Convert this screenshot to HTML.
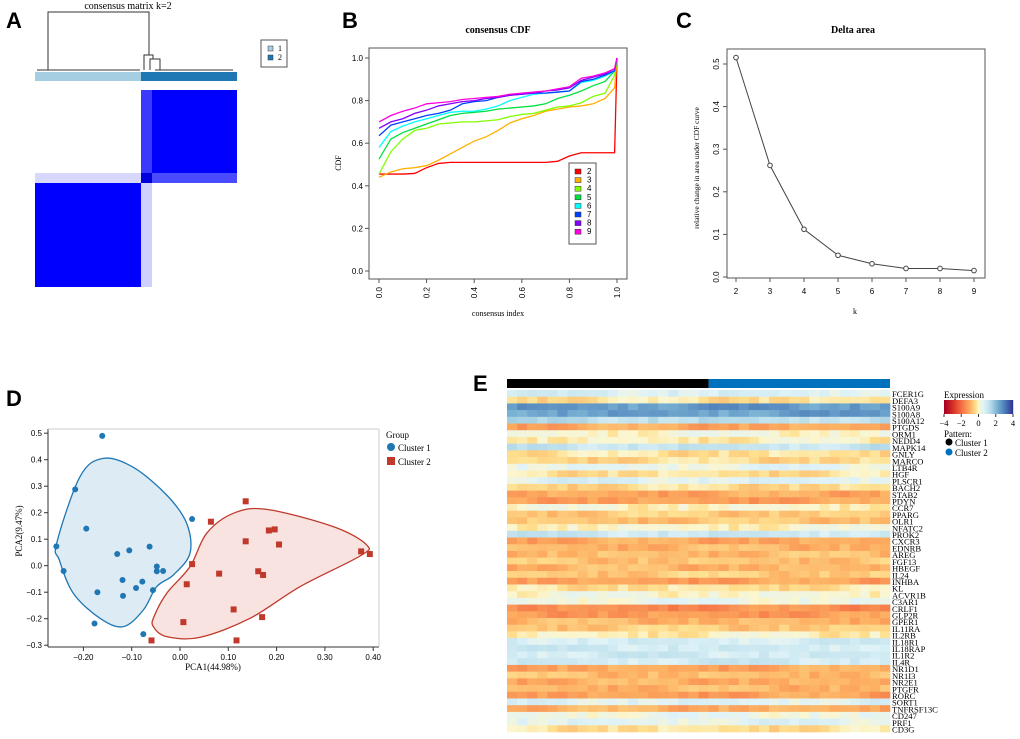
<!DOCTYPE html>
<html><head><meta charset="utf-8"><style>
body{margin:0;background:#fff}
svg{display:block}
text{font-family:"Liberation Serif",serif}
.lab{font-family:"Liberation Sans",sans-serif;font-weight:bold;font-size:22px}
.sans{font-family:"Liberation Sans",sans-serif}
</style></head><body>
<svg id="fig" width="1020" height="739" viewBox="0 0 1020 739" xmlns="http://www.w3.org/2000/svg">
<text class="lab" x="6" y="28">A</text>
<text class="lab" x="342" y="28">B</text>
<text class="lab" x="676" y="28">C</text>
<text class="lab" x="6" y="406">D</text>
<text class="lab" x="473" y="391">E</text>

<!-- Panel A -->
<g>
<text x="128" y="9" font-size="10" text-anchor="middle">consensus matrix k=2</text>
<g stroke="#333" stroke-width="1" fill="none">
<path d="M48,70V12H149V55"/><path d="M144,70V55H153V59"/><path d="M150,70V59H160V70"/>
<path d="M37,70H140M155,70H233"/>
</g>
<rect x="35" y="72" width="106" height="9" fill="#a6cee3"/>
<rect x="141" y="72" width="96" height="9" fill="#1f78b4"/>
<rect x="141" y="90" width="96" height="93" fill="#0000ff"/>
<rect x="141" y="90" width="11" height="83" fill="#3a3aff"/>
<rect x="141" y="173" width="96" height="10" fill="#4a4aff"/>
<rect x="35" y="173" width="106" height="10" fill="#d8d8ff"/>
<rect x="35" y="183" width="106" height="104" fill="#0000ff"/>
<rect x="141" y="183" width="11" height="104" fill="#d0d0ff"/>
<rect x="141" y="173" width="11" height="10" fill="#0000dd"/>
<rect x="261" y="40" width="26" height="27" fill="#fff" stroke="#555"/>
<rect x="268" y="46" width="5" height="5" fill="#a6cee3" stroke="#333" stroke-width=".5"/>
<text x="278" y="51" font-size="8">1</text>
<rect x="268" y="55" width="5" height="5" fill="#1f78b4" stroke="#333" stroke-width=".5"/>
<text x="278" y="60" font-size="8">2</text>
</g>

<g id="panelB"></g>
<g id="panelC"></g>
<g id="panelD"></g>
<g id="panelE"></g>
</svg>
<script>
const NS="http://www.w3.org/2000/svg";
function mk(p,t,a,txt){const e=document.createElementNS(NS,t);for(const k in a)e.setAttribute(k,a[k]);if(txt!==undefined)e.textContent=txt;p.appendChild(e);return e;}

// ---------- Panel B data ----------
const cdfX=[0,0.05,0.1,0.15,0.2,0.25,0.3,0.35,0.4,0.45,0.5,0.55,0.6,0.65,0.7,0.75,0.8,0.85,0.9,0.95,0.99,1.0];
const cdfK=["2","3","4","5","6","7","8","9"];
const cdfColors=["#ff0000","#ffb000","#80ff00","#00e040","#00ffff","#0040ff","#8000ff","#ff00e0"];
const cdf2=[.455,.455,.455,.458,.485,.505,.51,.51,.51,.51,.51,.51,.51,.51,.51,.515,.54,.555,.555,.555,.555,1.0];
const cdf3=[.44,.465,.48,.485,.495,.52,.55,.58,.61,.63,.66,.695,.715,.73,.75,.76,.77,.775,.785,.81,.86,1.0];
const cdf4=[.455,.56,.62,.66,.67,.69,.695,.70,.70,.705,.71,.725,.735,.74,.755,.77,.775,.79,.82,.835,.92,1.0];
const cdf5=[.525,.62,.65,.67,.69,.71,.73,.74,.745,.75,.76,.765,.77,.775,.785,.81,.825,.845,.87,.89,.94,1.0];
const cdf6=[.58,.655,.68,.70,.715,.73,.745,.75,.75,.76,.775,.80,.815,.83,.835,.84,.845,.885,.895,.915,.94,1.0];
const cdf7=[.635,.685,.70,.715,.73,.74,.755,.785,.795,.80,.815,.825,.83,.835,.835,.84,.845,.89,.90,.92,.94,1.0];
const cdf8=[.67,.70,.715,.74,.755,.775,.785,.795,.80,.81,.815,.825,.83,.835,.845,.85,.86,.895,.91,.925,.95,1.0];
const cdf9=[.70,.73,.75,.765,.785,.79,.795,.805,.81,.815,.82,.83,.835,.84,.845,.855,.865,.905,.915,.93,.95,1.0];
const cdfSeries=[cdf2,cdf3,cdf4,cdf5,cdf6,cdf7,cdf8,cdf9];
const cdfTicks=[0,0.2,0.4,0.6,0.8,1.0];

// ---------- Panel C data ----------
const deltaK=[2,3,4,5,6,7,8,9];
const deltaVal=[0.515,0.262,0.112,0.051,0.031,0.02,0.02,0.015];
const deltaYTicks=[0,0.1,0.2,0.3,0.4,0.5];

// ---------- Panel D data ----------
const c1x=[-0.161,-0.217,-0.194,-0.256,-0.241,-0.171,-0.177,-0.130,-0.105,-0.063,-0.048,-0.048,-0.035,-0.119,-0.078,-0.091,-0.056,-0.118,0.025,-0.076];
const c1y=[0.49,0.288,0.14,0.073,-0.02,-0.10,-0.218,0.044,0.058,0.072,-0.003,-0.021,-0.02,-0.054,-0.06,-0.084,-0.092,-0.114,0.176,-0.258];
const c2x=[0.136,0.064,0.184,0.196,0.136,0.205,0.375,0.393,0.025,0.081,0.162,0.172,0.014,0.111,0.170,0.007,-0.059,0.117];
const c2y=[0.243,0.166,0.133,0.137,0.092,0.08,0.054,0.044,0.006,-0.03,-0.021,-0.035,-0.07,-0.165,-0.194,-0.213,-0.282,-0.282];
const pcaXTicks=[-0.2,-0.1,0,0.1,0.2,0.3,0.4];
const pcaXLabels=["\u22120.20","\u22120.10","0.00","0.10","0.20","0.30","0.40"];
const pcaYTicks=[-0.3,-0.2,-0.1,0,0.1,0.2,0.3,0.4,0.5];
const pcaYLabels=["\u22120.3","\u22120.2","\u22120.1","0.0","0.1","0.2","0.3","0.4","0.5"];

// ---------- Panel E data ----------
const genes=["FCER1G","DEFA3","S100A9","S100A8","S100A12","PTGDS","ORM1","NEDD4","MAPK14","GNLY","MARCO","LTB4R","HGF","PLSCR1","BACH2","STAB2","PDYN","CCR7","PPARG","OLR1","NFATC2","PROK2","CXCR3","EDNRB","AREG","FGF13","HBEGF","IL24","INHBA","KL","ACVR1B","C3AR1","CRLF1","GLP2R","GPER1","IL11RA","IL2RB","IL18R1","IL18RAP","IL1R2","IL4R","NR1D1","NR1I3","NR2E1","PTGFR","RORC","SORT1","TNFRSF13C","CD247","PRF1","CD3G"];
const geneBase=[0.7,-0.3,2.6,2.5,1.3,-1.1,0.1,-0.1,1.1,-0.3,-0.4,0.4,-0.3,0.6,-0.4,-1.1,-1.2,0.0,-0.6,-0.7,0.0,1.0,-1.1,-0.9,-0.8,-0.7,-0.9,-0.6,-1.2,-0.3,0.1,0.3,-1.5,-1.3,-0.9,-0.6,-0.1,0.8,0.9,0.9,0.9,-1.1,-0.8,-1.0,-0.9,-1.2,0.6,-1.0,0.3,0.5,-0.3];
const colNoise=[0.2,-0.6,0.4,-0.1,0.7,-0.4,0.0,0.5,-0.8,0.3,-0.2,0.6,-0.5,0.1,0.8,-0.3,0.2,-0.7,0.4,0.0,-0.4,0.6,-0.1,0.3,-0.6,0.5,-0.2,0.1,0.7,-0.5,0.3,-0.3,0.0,0.6,-0.8,0.2,0.4,-0.1];
const nCluster1=20, nCluster2=18;

// ---------- Draw B ----------
(function(){
 const g=document.getElementById('panelB');
 const x0=369,x1=627,y0=48,y1=279;
 const sx=v=>379+v*(617-379), sy=v=>271-v*(271-58);
 mk(g,'text',{x:498,y:33,'font-size':10,'font-weight':'bold','text-anchor':'middle'},'consensus CDF');
 mk(g,'rect',{x:x0,y:y0,width:x1-x0,height:y1-y0,fill:'none',stroke:'#555'});
 cdfTicks.forEach(t=>{
  mk(g,'line',{x1:x0-4,x2:x0,y1:sy(t),y2:sy(t),stroke:'#555'});
  mk(g,'text',{x:x0-6,y:sy(t)+3,'font-size':8,'text-anchor':'end',class:'sans'},t.toFixed(1));
  mk(g,'line',{x1:sx(t),x2:sx(t),y1:y1,y2:y1+4,stroke:'#555'});
  mk(g,'text',{x:0,y:0,'font-size':8,'text-anchor':'end',class:'sans',transform:`translate(${sx(t)+3},${y1+8}) rotate(-90)`},t.toFixed(1));
 });
 mk(g,'text',{x:0,y:0,'font-size':8,'text-anchor':'middle',transform:`translate(341,163) rotate(-90)`},'CDF');
 mk(g,'text',{x:498,y:316,'font-size':8,'text-anchor':'middle'},'consensus index');
 cdfSeries.forEach((s,i)=>{
  const pl=mk(g,'polyline',{points:s.map((v,j)=>sx(cdfX[j])+','+sy(v)).join(' '),fill:'none',stroke:cdfColors[i],'stroke-width':1.3});
  
  
 });
 const lg=mk(g,'g',{});
 
 
 mk(lg,'rect',{x:569,y:163,width:27,height:81,fill:'#fff',stroke:'#555'});
 cdfK.forEach((k,i)=>{
  mk(lg,'rect',{x:575,y:169+i*8.6,width:6,height:5,fill:cdfColors[i],stroke:'#333','stroke-width':.5});
  mk(lg,'text',{x:587,y:174+i*8.6,'font-size':8,class:'sans'},k);
 });
})();

// ---------- Draw C ----------
(function(){
 const g=document.getElementById('panelC');
 const x0=727,x1=985,y0=49,y1=278;
 const sx=k=>736+(k-2)*34, sy=v=>277-v/0.5*(277-64);
 mk(g,'text',{x:853,y:33,'font-size':10,'font-weight':'bold','text-anchor':'middle'},'Delta area');
 mk(g,'rect',{x:x0,y:y0,width:x1-x0,height:y1-y0,fill:'none',stroke:'#555'});
 deltaYTicks.forEach(t=>{
  mk(g,'line',{x1:x0-4,x2:x0,y1:sy(t),y2:sy(t),stroke:'#555'});
  mk(g,'text',{x:0,y:0,'font-size':8,'text-anchor':'middle',class:'sans',transform:`translate(${x0-8},${sy(t)}) rotate(-90)`},t.toFixed(1));
 });
 deltaK.forEach(k=>{
  mk(g,'line',{x1:sx(k),x2:sx(k),y1:y1,y2:y1+4,stroke:'#555'});
  mk(g,'text',{x:sx(k),y:y1+16,'font-size':8,'text-anchor':'middle',class:'sans'},k);
 });
 mk(g,'text',{x:855,y:314,'font-size':8,'text-anchor':'middle'},'k');
 mk(g,'text',{x:0,y:0,'font-size':7.5,'text-anchor':'middle',transform:`translate(699,168) rotate(-90)`},'relative change in area under CDF curve');
 const ln=mk(g,'polyline',{points:deltaVal.map((v,i)=>sx(deltaK[i])+','+sy(v)).join(' '),fill:'none',stroke:'#444','stroke-width':1});
 
 
 deltaVal.forEach((v,i)=>{
  const c=mk(g,'circle',{cx:sx(deltaK[i]),cy:sy(v),r:2.3,fill:'#fff',stroke:'#444'});
  
  
 });
})();

// ---------- Draw D ----------
(function(){
 const g=document.getElementById('panelD');
 const x0=48,x1=379,y0=429,y1=647;
 const sx=v=>180+v*483, sy=v=>565.7-v*265;
 function smooth(pts){let d='';const n=pts.length;for(let i=0;i<n;i++){const p0=pts[(i-1+n)%n],p1=pts[i],p2=pts[(i+1)%n],p3=pts[(i+2)%n];if(i===0)d+='M'+p1[0]+','+p1[1];const c1=[p1[0]+(p2[0]-p0[0])/6,p1[1]+(p2[1]-p0[1])/6],c2=[p2[0]-(p3[0]-p1[0])/6,p2[1]-(p3[1]-p1[1])/6];d+=`C${c1[0]},${c1[1]} ${c2[0]},${c2[1]} ${p2[0]},${p2[1]}`;}return d+'Z';}
 const hb=[[170,490],[240,290],[310,235],[400,262],[500,345],[560,430],[570,520],[520,585],[470,620],[430,690],[370,740],[300,715],[220,640],[178,540]].map(p=>[p[0]/3,380+p[1]/3]);
 const hr=[[462,710],[500,640],[570,560],[620,460],[700,400],[800,388],[1000,440],[1100,495],[1080,528],[900,620],[750,715],[600,772],[500,770],[460,740]].map(p=>[p[0]/3,380+p[1]/3]);
 const h1=mk(g,'path',{d:smooth(hb),fill:'#ddebf5',stroke:'#1f77b4','stroke-width':1.3});
 
 
 const h2=mk(g,'path',{d:smooth(hr),fill:'#f8e3e1',stroke:'#c0392b','stroke-width':1.3});
 
 
 mk(g,'line',{x1:x0,x2:x1,y1:y1,y2:y1,stroke:'#333'});
 mk(g,'line',{x1:x0,x2:x0,y1:y0,y2:y1,stroke:'#333'});
 mk(g,'line',{x1:x0,x2:x1,y1:y0,y2:y0,stroke:'#ccc'});
 mk(g,'line',{x1:x1,x2:x1,y1:y0,y2:y1,stroke:'#ccc'});
 pcaXTicks.forEach((t,i)=>{mk(g,'line',{x1:sx(t),x2:sx(t),y1:y1,y2:y1+4,stroke:'#333'});mk(g,'text',{x:sx(t),y:y1+13,'font-size':8,'text-anchor':'middle',class:'sans'},pcaXLabels[i]);});
 pcaYTicks.forEach((t,i)=>{mk(g,'line',{x1:x0-4,x2:x0,y1:sy(t),y2:sy(t),stroke:'#333'});mk(g,'text',{x:x0-6,y:sy(t)+3,'font-size':8,'text-anchor':'end',class:'sans'},pcaYLabels[i]);});
 mk(g,'text',{x:213,y:670,'font-size':9,'text-anchor':'middle'},'PCA1(44.98%)');
 mk(g,'text',{x:0,y:0,'font-size':9,'text-anchor':'middle',transform:'translate(22,531) rotate(-90)'},'PCA2(9.47%)');
 c1x.forEach((v,i)=>{const c=mk(g,'circle',{cx:sx(v),cy:sy(c1y[i]),r:3,fill:'#1f77b4'});
  
  });
 c2x.forEach((v,i)=>{const r=mk(g,'rect',{x:sx(v)-3,y:sy(c2y[i])-3,width:6,height:6,fill:'#c0392b'});
  
  });
 const lg=mk(g,'g',{});
 
 
 mk(lg,'text',{x:386,y:438,'font-size':9},'Group');
 mk(lg,'circle',{cx:391,cy:447,r:4,fill:'#1f77b4'});
 mk(lg,'text',{x:398,y:451,'font-size':9},'Cluster 1');
 mk(lg,'rect',{x:387,y:457,width:8,height:8,fill:'#c0392b'});
 mk(lg,'text',{x:398,y:465,'font-size':9},'Cluster 2');
})();

// ---------- Draw E ----------
(function(){
 const g=document.getElementById('panelE');
 const stops=[[-4,[165,0,38]],[-3,[215,48,39]],[-2,[244,109,67]],[-1,[253,174,97]],[-0.3,[254,224,144]],[0,[252,246,205]],[0.6,[224,243,248]],[1.3,[190,224,236]],[2.3,[116,173,209]],[3.2,[69,117,180]],[4,[49,54,149]]];
 function col(v){v=Math.max(-4,Math.min(4,v));for(let i=0;i<stops.length-1;i++){const a=stops[i],b=stops[i+1];if(v<=b[0]){const t=(v-a[0])/(b[0]-a[0]);return 'rgb('+a[1].map((c,j)=>Math.round(c+(b[1][j]-c)*t)).join(',')+')';}}return 'rgb(49,54,149)';}
 const x0=507,x1=890,y0=390,y1=732;
 const nc=nCluster1+nCluster2, cw=(x1-x0)/nc, rh=(y1-y0)/genes.length;
 const b1=mk(g,'rect',{x:x0,y:379,width:cw*nCluster1,height:9,fill:'#000'});
 
 
 const b2=mk(g,'rect',{x:x0+cw*nCluster1,y:379,width:cw*nCluster2,height:9,fill:'#0072bd'});
 
 
 genes.forEach((gn,r)=>{
  for(let c=0;c<nc;c++){
   const v=geneBase[r]+0.45*colNoise[(c*7+r*13)%colNoise.length];
   const cell=mk(g,'rect',{x:x0+c*cw,y:y0+r*rh,width:cw+0.3,height:rh+0.3,fill:col(v)});
   
   
  }
  const t=mk(g,'text',{x:x1+2,y:y0+r*rh+rh+0.5,'font-size':8.6},gn);
  
  
 });
 const lg=mk(g,'g',{});
 
 
 mk(lg,'text',{x:944,y:398,'font-size':9},'Expression');
 for(let i=0;i<69;i++){mk(lg,'rect',{x:944+i,y:400,width:1.2,height:14,fill:col(-4+8*i/68)});}
 [-4,-2,0,2,4].forEach(t=>{const x=944+(t+4)/8*69;mk(lg,'line',{x1:x,x2:x,y1:414,y2:417,stroke:'#333'});mk(lg,'text',{x:x,y:426,'font-size':8.5,'text-anchor':'middle'},t<0?'\u2212'+(-t):String(t));});
 mk(lg,'text',{x:944,y:437,'font-size':9},'Pattern:');
 mk(lg,'circle',{cx:949,cy:442,r:3.5,fill:'#000'});
 mk(lg,'text',{x:955,y:446,'font-size':9},'Cluster 1');
 mk(lg,'circle',{cx:949,cy:452,r:3.5,fill:'#0072bd'});
 mk(lg,'text',{x:955,y:456,'font-size':9},'Cluster 2');
})();
</script>
</body></html>
